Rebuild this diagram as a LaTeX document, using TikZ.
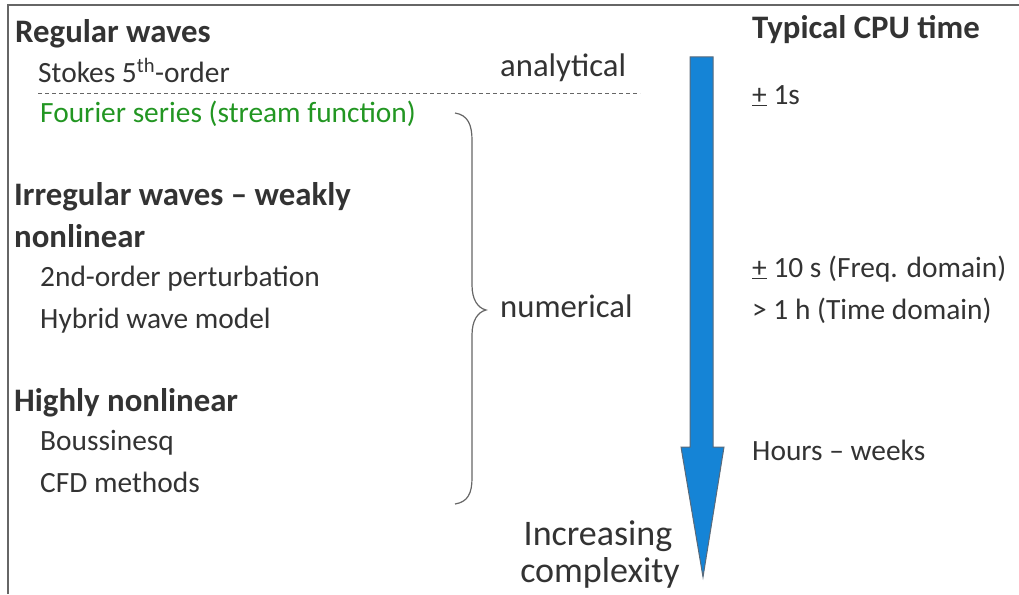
\documentclass[tikz,border=0pt]{standalone}
\usepackage{fontspec}
\setmainfont{Carlito}
\definecolor{txt}{HTML}{333333}
\definecolor{grn}{RGB}{34,150,34}
\definecolor{arrblue}{HTML}{1584D6}
\definecolor{arredge}{HTML}{5A6A7A}
\definecolor{framec}{HTML}{666666}
\begin{document}
\begin{tikzpicture}[x=1pt,y=-1pt,
  lbl/.style={anchor=base west,inner sep=0pt,text=txt,font=\fontsize{29.4}{34}\selectfont},
  head/.style={lbl,font=\fontsize{32.8}{38}\selectfont\bfseries},
  mid/.style={lbl,font=\fontsize{32.7}{38}\selectfont},
  big/.style={anchor=base,inner sep=0pt,text=txt,font=\fontsize{36}{42}\selectfont}]
\useasboundingbox (0,0) rectangle (1019,594);
\draw[framec,line width=1.5pt] (8,594) -- (8,5) -- (1019,5);
% left column
\node[head] (reg) at (15,42) {Regular waves};
\node[lbl] (stokes) at (38,82) {Stokes 5\textsuperscript{th}-order};
\coordinate (dl) at (38,93);
\coordinate (dr) at (640,93);
\draw[framec,line width=0.8pt,dash pattern=on 4pt off 3pt] (dl) -- (dr);
\node[lbl,text=grn] (four) at (40,122) {Fourier series (stream function)};
\node[head] (irr1) at (14,205) {Irregular waves – weakly};
\node[head] (irr2) at (14,247) {nonlinear};
\node[lbl] (pert) at (40,286) {2nd-order perturbation};
\node[lbl] (hyb) at (40,328) {Hybrid wave model};
\node[head] (high) at (14,411) {Highly nonlinear};
\node[lbl] (bous) at (40,450) {Boussinesq};
\node[lbl] (cfd) at (40,492) {CFD methods};
% middle
\node[mid] (ana) at (500,76) {analytical};
\node[mid] (num) at (500,317) {numerical};
\draw[framec,line width=1.2pt] (455,113) .. controls (468,115) and (472,125) .. (472,140)
  -- (472,285) .. controls (472,300) and (478,308) .. (486,310)
  .. controls (478,312) and (472,320) .. (472,335)
  -- (472,478) .. controls (472,493) and (468,502) .. (455,504);
% arrow
\draw[arredge,fill=arrblue,line width=1pt] (690,57) -- (713,57) -- (713,447) -- (724,447)
  -- (703,577) -- (681,447) -- (690,447) -- cycle;
\node[big] (inc) at (598,545) {Increasing};
\node[big] (cmp) at (600,582) {complexity};
% right column
\node[head] (cpu) at (752,38) {Typical CPU time};
\node[lbl] (t1) at (752,104) {\underline{+} 1s};
\node[lbl] (t2) at (752,277) {\underline{+} 10 s (Freq. domain)};
\node[lbl] (t3) at (752,319) {> 1 h (Time domain)};
\node[lbl] (t4) at (752,460) {Hours – weeks};
\end{tikzpicture}
\end{document}
